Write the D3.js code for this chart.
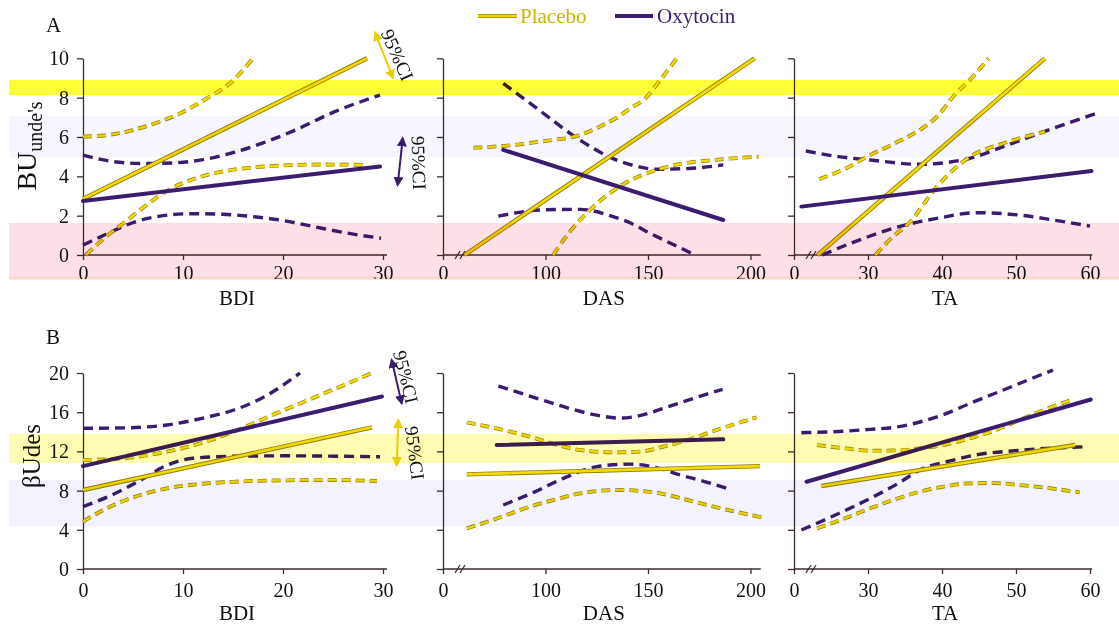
<!DOCTYPE html>
<html><head><meta charset="utf-8">
<script src="https://cdn.jsdelivr.net/npm/d3@7"></script>
<style>
body{margin:0;background:#fff}
svg{display:block}
text{font-family:"Liberation Serif","Times New Roman",serif}
</style>
</head><body>
<svg id="c" width="1119" height="628"></svg>
<script>
// ---------------- data ----------------
const seriesNames = ["Placebo", "Oxytocin"];
const panelLetters = ["A", "B"];
const xTitles = ["BDI", "DAS", "TA"];
const yTitleA = ["BU", "unde's"];
const yTitleB = "βUdes";
const ciLabel = "95%CI";

const xTickValsBDI = [0, 10, 20, 30];   const xTickTextBDI = ["0", "10", "20", "30"];
const xTickValsDAS = [50, 100, 150, 200]; const xTickTextDAS = ["0", "100", "150", "200"];
const xTickValsTA = [20, 30, 40, 50, 60]; const xTickTextTA = ["0", "30", "40", "50", "60"];
const yTicksA = [0, 2, 4, 6, 8, 10];
const yTicksB = [0, 4, 8, 12, 16, 20];

// Row A – BDI
const a1PlaceboFit = [[0, 2.85], [28.4, 10]];
const a1OxytocinFit = [[0, 2.75], [29.7, 4.5]];
const a1PlaceboUpper = [[0, 6.02], [2.5, 6.1], [5, 6.35], [7.5, 6.75], [9.7, 7.2], [12.5, 8.0], [14.7, 8.73], [17, 10]];
const a1PlaceboLower = [[0.3, 0], [2, 0.8], [4.5, 1.8], [6.5, 2.6], [8.7, 3.35], [11, 3.85], [14, 4.25], [17, 4.45], [20, 4.55], [24, 4.6], [28.4, 4.58]];
const a1OxytocinUpper = [[0, 5.08], [3, 4.75], [6, 4.65], [9, 4.68], [12, 4.85], [15, 5.2], [18, 5.7], [21, 6.3], [25, 7.25], [29.7, 8.13]];
const a1OxytocinLower = [[0, 0.5], [2.5, 1.1], [5, 1.65], [8, 2.0], [11, 2.1], [14, 2.07], [17, 1.95], [20, 1.75], [23, 1.45], [26, 1.15], [29.8, 0.85]];
// Row A – DAS
const a2PlaceboFit = [[60.5, 0], [202, 10]];
const a2OxytocinFit = [[79.4, 5.34], [186.7, 1.78]];
const a2PlaceboUpper = [[64.8, 5.45], [80, 5.55], [100, 5.8], [116.8, 6.1], [127, 6.55], [135, 7.0], [142, 7.5], [148, 7.9], [156, 8.9], [164, 10]];
const a2PlaceboLower = [[103.7, 0], [112, 1.2], [121.7, 2.29], [134.7, 3.39], [154, 4.32], [170, 4.7], [182, 4.83], [204, 5.0]];
const a2OxytocinUpper = [[79.4, 8.73], [97, 7.36], [117, 5.83], [133, 4.9], [145, 4.5], [154, 4.36], [170, 4.4], [186.7, 4.58]];
const a2OxytocinLower = [[77, 1.98], [100, 2.3], [117, 2.32], [133, 1.95], [142, 1.6], [151, 1.1], [162, 0.55], [173, 0]];
// Row A – TA
const a3PlaceboFit = [[23.2, 0], [53.9, 10]];
const a3OxytocinFit = [[21, 2.46], [60.2, 4.27]];
const a3PlaceboUpper = [[23.4, 3.86], [27, 4.4], [30.3, 5.08], [34, 5.75], [37, 6.36], [39.5, 7.1], [41.5, 8.05], [44, 9.0], [46.3, 10]];
const a3PlaceboLower = [[31, 0], [33, 0.8], [35.7, 1.69], [39.3, 3.47], [43.8, 5.0], [48.3, 5.68], [53.9, 6.27]];
const a3OxytocinUpper = [[21.6, 5.29], [26, 5.0], [30.3, 4.83], [37, 4.61], [43.8, 4.92], [48.3, 5.51], [55, 6.44], [60.9, 7.2]];
const a3OxytocinLower = [[23.8, 0], [28.8, 0.76], [34.2, 1.44], [39.3, 1.86], [44.7, 2.15], [50.5, 2.03], [55, 1.78], [60, 1.47]];
// Row B – BDI
const b1PlaceboFit = [[0, 8.06], [28.9, 14.46]];
const b1OxytocinFit = [[0, 10.5], [29.9, 17.6]];
const b1PlaceboUpper = [[0, 11.12], [4, 11.3], [8.4, 11.97], [12, 12.9], [15, 14.0], [18, 15.3], [21.7, 16.9], [25, 18.3], [28.9, 20]];
const b1PlaceboLower = [[0, 4.83], [2, 6.0], [5, 7.3], [8.4, 8.23], [12, 8.7], [15, 8.9], [20, 9.05], [25, 9.08], [29.4, 8.98]];
const b1OxytocinUpper = [[0, 14.36], [4, 14.4], [8.4, 14.7], [12, 15.4], [15, 16.2], [18, 17.5], [21.7, 20]];
const b1OxytocinLower = [[0, 6.36], [3, 7.6], [6, 9.2], [8, 10.4], [11, 11.3], [15, 11.5], [20, 11.55], [29.7, 11.45]];
// Row B – DAS
const b2PlaceboFit = [[61.6, 9.66], [204.6, 10.5]];
const b2OxytocinFit = [[76.2, 12.65], [186.7, 13.23]];
const b2PlaceboUpper = [[61.6, 14.97], [77, 14.3], [92.4, 13.5], [105, 12.7], [117, 12.14], [135, 11.9], [147, 12.0], [157.5, 12.48], [170, 13.2], [182, 14.08], [203, 15.48]];
const b2PlaceboLower = [[61.6, 4.15], [77, 5.2], [92.4, 6.36], [105, 7.1], [117, 7.72], [136, 8.06], [147, 7.95], [157.5, 7.65], [170, 7.0], [182, 6.36], [205.5, 5.27]];
const b2OxytocinUpper = [[77, 18.67], [90, 17.8], [100.6, 17.1], [113, 16.3], [125, 15.7], [136, 15.4], [147, 15.7], [157.5, 16.4], [172, 17.4], [186.4, 18.33]];
const b2OxytocinLower = [[79.4, 6.53], [95, 7.9], [108.7, 9.25], [125, 10.44], [141, 10.7], [155, 10.3], [165.6, 9.6], [178, 8.9], [188.4, 8.23]];
// Row B – TA
const b3PlaceboFit = [[23.7, 8.47], [58, 12.65]];
const b3OxytocinFit = [[21.7, 8.9], [60.1, 17.3]];
const b3PlaceboUpper = [[23.1, 12.65], [27, 12.3], [30.3, 12.07], [34, 12.1], [37, 12.31], [40.5, 12.7], [43.8, 13.33], [47, 14.1], [50.5, 15.2], [54, 16.3], [57.7, 17.3]];
const b3PlaceboLower = [[23.1, 4.15], [27, 5.2], [30.3, 6.19], [34, 7.2], [37, 7.89], [40.5, 8.45], [43.8, 8.74], [47, 8.76], [50.5, 8.57], [55, 8.2], [58.6, 7.82]];
const b3OxytocinUpper = [[21, 13.91], [25, 14.0], [30.3, 14.25], [34, 14.5], [37, 15.0], [40, 15.7], [43.8, 16.9], [48.3, 18.27], [52, 19.4], [55, 20.3]];
const b3OxytocinLower = [[21, 3.98], [25, 5.3], [30.3, 7.21], [34, 8.7], [37, 10.1], [41.5, 11.1], [45, 11.7], [48.3, 11.97], [54, 12.3], [59.6, 12.48]];

// CI annotations (BDI-panel data units): [x1,y1,x2,y2], colour key
const ciArrowsA = [[29.2, 11.3, 31.0, 9.0, "p"], [31.97, 5.93, 31.47, 3.56, "o"]];
const ciTextA = [[31.45, 10.17, 66], [33.6, 4.68, 88]];
const ciArrowsB = [[30.87, 21.33, 31.87, 16.9, "o"], [31.53, 15.2, 31.37, 10.6, "p"]];
const ciTextB = [[32.3, 19.6, 76], [33.2, 11.84, 83]];

// ---------------- drawing ----------------
const W = 1119, H = 628;
const YEL = "#f3da00", YEL_EDGE = "#8f7f10", PUR = "#3b1c6e", AX = "#3d2b2b";
const svg = d3.select("#c");
svg.append("rect").attr("width", W).attr("height", H).attr("fill", "#fff");

const defs = svg.append("defs");
[["p", "#e8cf00"], ["o", PUR]].forEach(([k, c]) => {
  defs.append("marker").attr("id", "ah" + k).attr("viewBox", "0 0 10 10")
    .attr("refX", 8).attr("refY", 5).attr("markerWidth", 10).attr("markerHeight", 10)
    .attr("markerUnits", "userSpaceOnUse").attr("orient", "auto-start-reverse")
    .append("path").attr("d", "M0,0 L10,5 L0,10 z").attr("fill", c);
});
defs.append("clipPath").attr("id", "clipA").append("rect").attr("x", 0).attr("y", 0).attr("width", W).attr("height", 279);

const yScales = [
  d3.scaleLinear().domain([0, 10]).range([255, 58.3]),
  d3.scaleLinear().domain([0, 20]).range([569, 373])
];
const xScales = [
  d3.scaleLinear().domain([0, 30]).range([83, 383]),
  d3.scaleLinear().domain([50, 200]).range([443, 750.5]),
  d3.scaleLinear().domain([20, 60]).range([794, 1090])
];
const xAxisEnd = [30.4, 205, 60.3];
const xTickVals = [xTickValsBDI, xTickValsDAS, xTickValsTA];
const xTickText = [xTickTextBDI, xTickTextDAS, xTickTextTA];
const yTicks = [yTicksA, yTicksB];

const panels = [
  [a1PlaceboFit, a1OxytocinFit, a1PlaceboUpper, a1PlaceboLower, a1OxytocinUpper, a1OxytocinLower],
  [a2PlaceboFit, a2OxytocinFit, a2PlaceboUpper, a2PlaceboLower, a2OxytocinUpper, a2OxytocinLower],
  [a3PlaceboFit, a3OxytocinFit, a3PlaceboUpper, a3PlaceboLower, a3OxytocinUpper, a3OxytocinLower],
  [b1PlaceboFit, b1OxytocinFit, b1PlaceboUpper, b1PlaceboLower, b1OxytocinUpper, b1OxytocinLower],
  [b2PlaceboFit, b2OxytocinFit, b2PlaceboUpper, b2PlaceboLower, b2OxytocinUpper, b2OxytocinLower],
  [b3PlaceboFit, b3OxytocinFit, b3PlaceboUpper, b3PlaceboLower, b3OxytocinUpper, b3OxytocinLower]
];

panels.forEach((p, i) => {
  const row = Math.floor(i / 3), col = i % 3;
  const x = xScales[col], y = yScales[row];
  const g = svg.append("g");
  const line = d3.line().x(d => x(d[0])).y(d => y(d[1])).curve(d3.curveMonotoneX);

  // axes
  const ya = d3.axisLeft(y).tickValues(yTicks[row]).tickSize(6).tickSizeOuter(0).tickPadding(8)
    .tickFormat(col === 0 ? d3.format("d") : () => "");
  const yg = g.append("g").attr("transform", `translate(${x.range()[0]},0)`).call(ya);
  yg.selectAll("path,line").attr("stroke", AX).attr("stroke-width", 1.3);
  yg.selectAll("text").attr("font-size", 20).attr("fill", "#111")
    .attr("font-family", "'Liberation Serif',serif");

  const x0 = x.domain()[0];
  g.append("line").attr("x1", x(x0)).attr("x2", x(xAxisEnd[col]))
    .attr("y1", y(0)).attr("y2", y(0)).attr("stroke", AX).attr("stroke-width", 1.3);
  const xa = d3.axisBottom(x).tickValues(xTickVals[col]).tickSize(5).tickPadding(row === 0 ? 6 : 9)
    .tickFormat((d, k) => xTickText[col][k]);
  const holder = row === 0 ? g.append("g").attr("clip-path", "url(#clipA)") : g;
  const xg = holder.append("g").attr("transform", `translate(0,${y(0)})`).call(xa);
  xg.select(".domain").remove();
  xg.selectAll("line").attr("stroke", AX).attr("stroke-width", 1.3);
  xg.selectAll("text").attr("font-size", 20).attr("fill", "#111")
    .attr("font-family", "'Liberation Serif',serif");
  if (col > 0) {
    const bx = x(x0) + 17, by = y(0);
    [-2.5, 2.5].forEach(o => g.append("line").attr("x1", bx + o - 2.5).attr("y1", by + 4)
      .attr("x2", bx + o + 2.5).attr("y2", by - 4).attr("stroke", AX).attr("stroke-width", 1.2));
  }
  g.append("text").attr("x", (x.range()[0] + x(xAxisEnd[col])) / 2 + 2).attr("y", y(0) + (row === 0 ? 50 : 51))
    .attr("text-anchor", "middle").attr("font-size", 21).attr("fill", "#111").text(xTitles[col]);

  // CI curves
  [p[4], p[5]].forEach(d => {
    g.append("path").attr("d", line(d)).attr("fill", "none").attr("stroke", PUR)
      .attr("stroke-width", 3.4).attr("stroke-dasharray", "10,6");
  });
  [p[2], p[3]].forEach(d => {
    g.append("path").attr("d", line(d)).attr("fill", "none").attr("stroke", YEL_EDGE)
      .attr("stroke-width", 3.8).attr("stroke-dasharray", "9,5");
    g.append("path").attr("d", line(d)).attr("fill", "none").attr("stroke", YEL)
      .attr("stroke-width", 2.4).attr("stroke-dasharray", "9,5");
  });
  // fits
  g.append("path").attr("d", line(p[0])).attr("fill", "none").attr("stroke", YEL_EDGE).attr("stroke-width", 4.4);
  g.append("path").attr("d", line(p[0])).attr("fill", "none").attr("stroke", YEL).attr("stroke-width", 2.6);
  g.append("path").attr("d", line(p[1])).attr("fill", "none").attr("stroke", PUR).attr("stroke-width", 4)
    .attr("stroke-linecap", "round");
});

// CI annotations
function drawCI(arrows, texts, row) {
  const x = xScales[0], y = yScales[row];
  arrows.forEach(a => {
    svg.append("line").attr("x1", x(a[0])).attr("y1", y(a[1])).attr("x2", x(a[2])).attr("y2", y(a[3]))
      .attr("stroke", a[4] === "p" ? "#e8cf00" : PUR).attr("stroke-width", 2)
      .attr("marker-start", `url(#ah${a[4]})`).attr("marker-end", `url(#ah${a[4]})`);
  });
  texts.forEach(t => {
    svg.append("text").attr("transform", `translate(${x(t[0])},${y(t[1])}) rotate(${t[2]})`)
      .attr("text-anchor", "middle").attr("dy", "0.35em").attr("font-size", 19).attr("fill", "#111").text(ciLabel);
  });
}
drawCI(ciArrowsA, ciTextA, 0);
drawCI(ciArrowsB, ciTextB, 1);

// background bands (multiply so marks show through)
const bands = [
  [9, 80, 1110, 15, "#ffff38"],
  [9, 116, 1110, 41, "#f7f5fd"],
  [9, 223, 1110, 55, "#fde0e7"],
  [9, 277, 1110, 3, "#fde6d8"],
  [9, 434, 1110, 29, "#fdfcb2"],
  [9, 480, 1110, 46, "#f3f2fd"]
];
svg.append("g").selectAll("rect").data(bands).join("rect")
  .attr("x", d => d[0]).attr("y", d => d[1]).attr("width", d => d[2]).attr("height", d => d[3])
  .attr("fill", d => d[4]).style("mix-blend-mode", "multiply");

// panel letters
svg.append("text").attr("x", 46).attr("y", 32).attr("font-size", 21).attr("fill", "#111").text(panelLetters[0]);
svg.append("text").attr("x", 46).attr("y", 344).attr("font-size", 21).attr("fill", "#111").text(panelLetters[1]);

// y titles
const ytA = svg.append("text").attr("transform", "translate(36,146) rotate(-90)").attr("text-anchor", "middle").attr("fill", "#111");
ytA.append("tspan").attr("font-size", 28).text(yTitleA[0]);
ytA.append("tspan").attr("font-size", 20).attr("dy", 6).text(yTitleA[1]);
svg.append("text").attr("transform", "translate(40,456) rotate(-90)").attr("text-anchor", "middle")
  .attr("fill", "#111").attr("font-size", 25).text(yTitleB);

// legend
const lg = svg.append("g");
const legItems = [[478, 517, 520, "p"], [615, 653, 657, "o"]];
legItems.forEach((L, k) => {
  if (L[3] === "p") {
    lg.append("line").attr("x1", L[0]).attr("x2", L[1]).attr("y1", 16).attr("y2", 16).attr("stroke", YEL_EDGE).attr("stroke-width", 4);
    lg.append("line").attr("x1", L[0]).attr("x2", L[1]).attr("y1", 16).attr("y2", 16).attr("stroke", YEL).attr("stroke-width", 2.4);
  } else {
    lg.append("line").attr("x1", L[0]).attr("x2", L[1]).attr("y1", 16).attr("y2", 16).attr("stroke", PUR).attr("stroke-width", 4);
  }
  lg.append("text").attr("x", L[2]).attr("y", 23).attr("font-size", 21)
    .attr("fill", L[3] === "p" ? "#c9b400" : PUR).text(seriesNames[k]);
});
</script>
</body></html>
